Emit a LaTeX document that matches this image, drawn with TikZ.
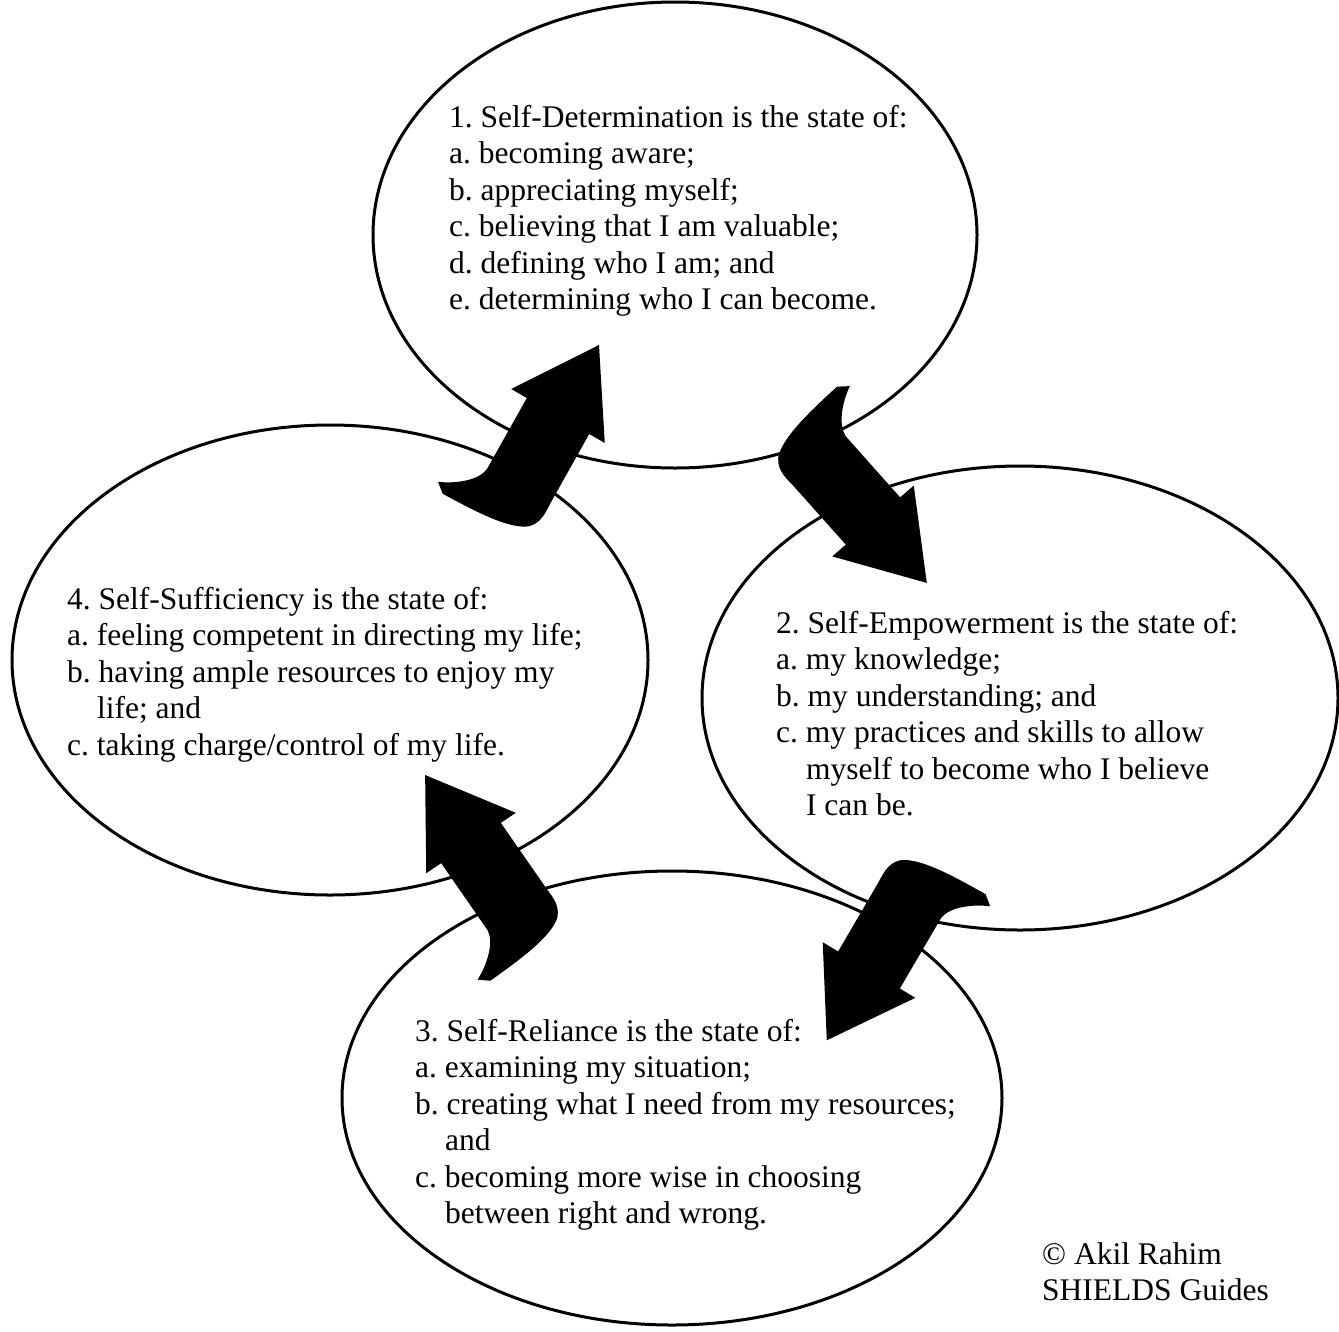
\documentclass[tikz,border=0pt]{standalone}
\usepackage{fontspec}
\setmainfont{Liberation Serif}
\usepackage{tikz}
\usetikzlibrary{shapes.geometric}
\frenchspacing
\tikzset{
  stage/.style={draw=black,line width=3pt,ellipse,inner sep=0pt},
  txt/.style={anchor=north west,align=left,inner sep=0pt,font=\fontsize{31.5}{36.5}\selectfont},
  bendarrow/.pic={
    \fill[black] (82,0) -- (0,-54) -- (0,-36) -- (-82,-35)
      .. controls (-96,-37) and (-110,-55) .. (-117,-71)
      -- (-125,-61)
      .. controls (-124,-20) and (-122,15) .. (-110,30)
      .. controls (-100,40) and (-88,37) .. (-75,37)
      -- (0,36) -- (0,54) -- cycle;
  }
}
\newcommand{\hang}{\hspace*{0.95em}}

\begin{document}
\begin{tikzpicture}[x=1pt,y=-1pt]
\useasboundingbox (0,0) rectangle (1339,1331);
\node[stage,minimum width=604pt,minimum height=466pt] (e1) at (675,235) {};
\node[stage,minimum width=636pt,minimum height=464pt] (e2) at (1020,698) {};
\node[stage,minimum width=660pt,minimum height=454pt] (e3) at (672,1098) {};
\node[stage,minimum width=636pt,minimum height=470pt] (e4) at (330,660) {};
\coordinate (a41) at (558,416);
\coordinate (a12) at (873,521);
\coordinate (a23) at (869,970);
\coordinate (a34) at (471,843);
\pic[rotate=60] at (a41) {bendarrow};
\pic[rotate=-49] at (a12) {bendarrow};
\pic[rotate=-121] at (a23) {bendarrow};
\pic[rotate=124] at (a34) {bendarrow};
\node[txt] (t1) at (449,105) {1. Self-Determination is the state of:\\
a. becoming aware;\\
b. appreciating myself;\\
c. believing that I am valuable;\\
d. defining who I am; and\\
e. determining who I can become.};
\node[txt] (t2) at (776,611) {2. Self-Empowerment is the state of:\\
a. my knowledge;\\
b. my understanding; and\\
c. my practices and skills to allow\\
\hang myself to become who I believe\\
\hang I can be.};
\node[txt] (t3) at (415,1019) {3. Self-Reliance is the state of:\\
a. examining my situation;\\
b. creating what I need from my resources;\\
\hang and\\
c. becoming more wise in choosing\\
\hang between right and wrong.};
\node[txt] (t4) at (67,587) {4. Self-Sufficiency is the state of:\\
a. feeling competent in directing my life;\\
b. having ample resources to enjoy my\\
\hang life; and\\
c. taking charge/control of my life.};
\node[txt] (cr) at (1042,1242) {\textcopyright{} Akil Rahim\\
SHIELDS Guides};
\end{tikzpicture}
\end{document}
